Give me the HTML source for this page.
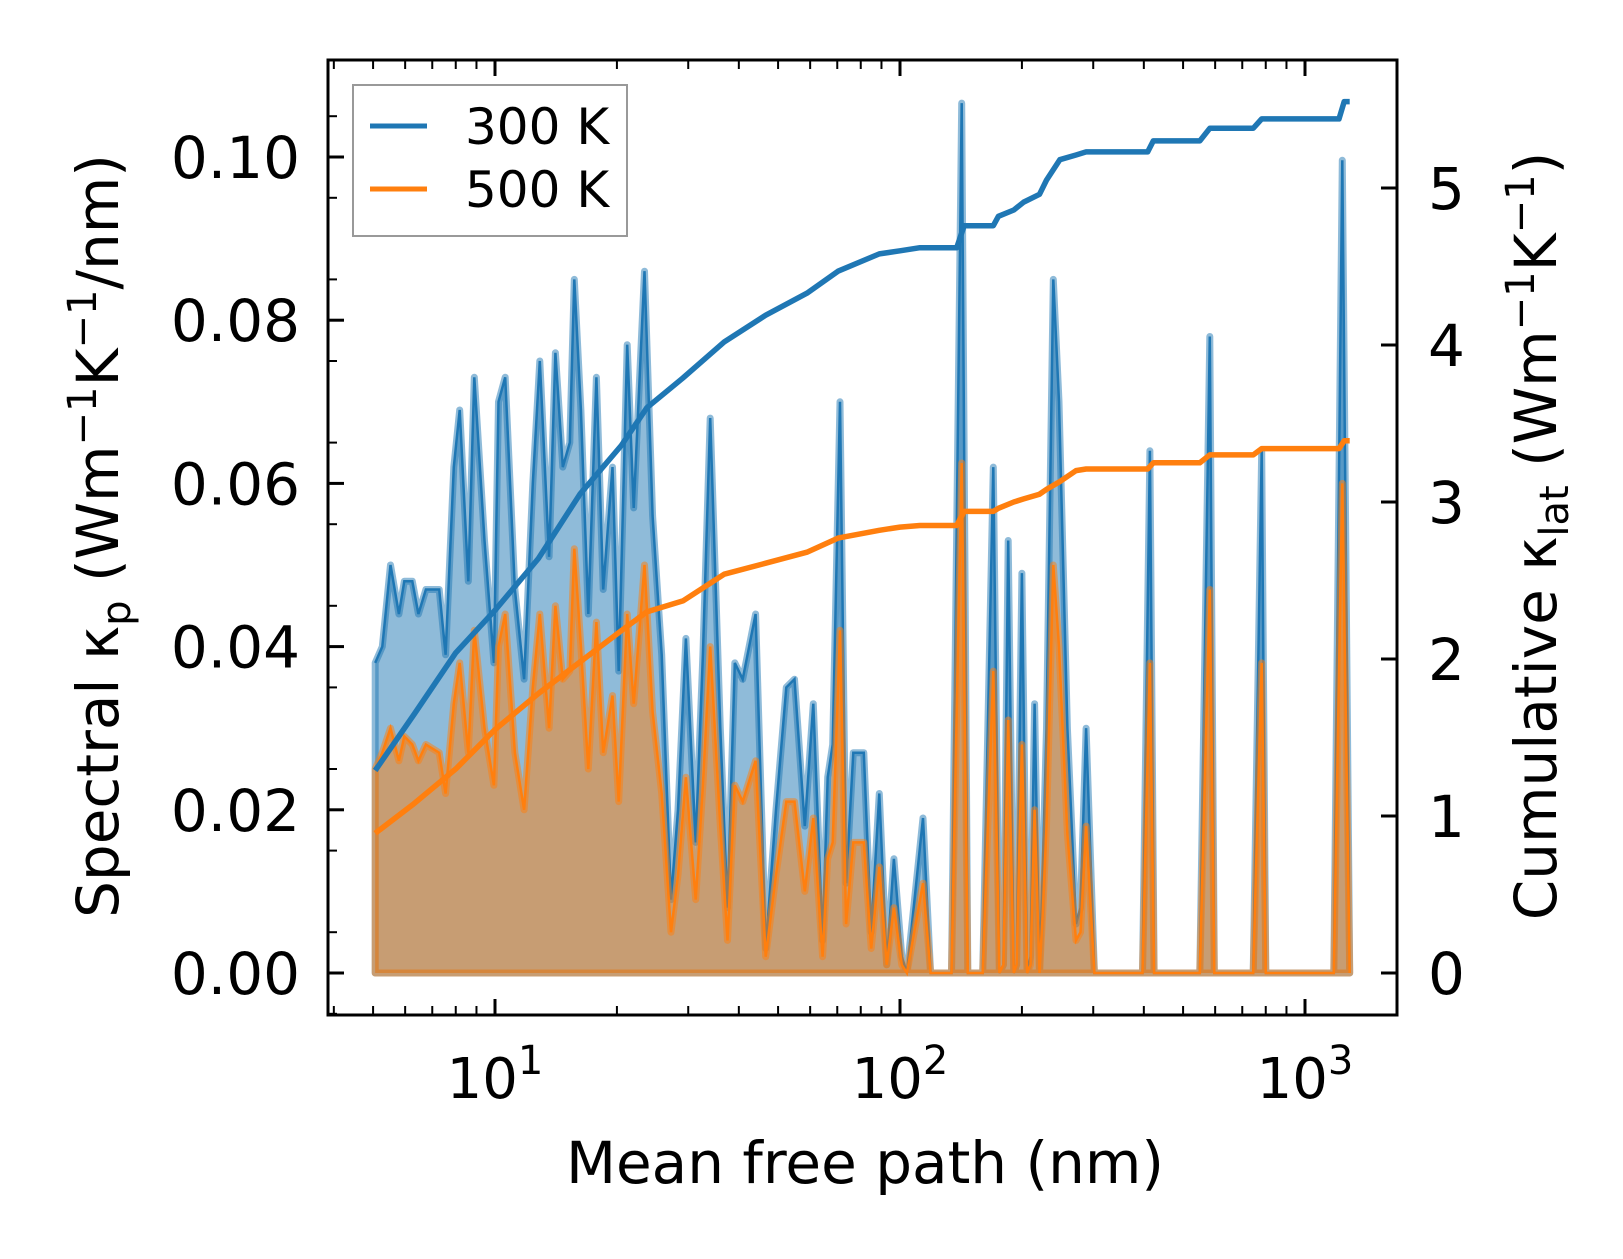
<!DOCTYPE html>
<html><head><meta charset="utf-8"><style>
html,body{margin:0;padding:0;background:#fff}
svg text{font-family:"DejaVu Sans","Liberation Sans",sans-serif;fill:#000}
</style></head><body>
<svg id="chart" width="1623" height="1254" viewBox="0 0 1623 1254" xmlns="http://www.w3.org/2000/svg">
<g id="plot"></g>
<g id="axes"></g>
</svg>
<script>
const mfp = [5.06,5.27,5.52,5.79,5.97,6.25,6.47,6.75,7.28,7.55,7.91,8.18,8.59,8.89,9.42,9.94,10.2,10.6,11.2,11.8,12.4,12.9,13.6,14.1,14.7,15.3,15.7,16.3,17.0,17.8,18.5,19.5,20.2,21.2,22.0,23.4,24.5,25.8,27.2,28.3,29.6,31.3,32.6,34.0,36.0,37.5,39.1,40.9,44.0,46.6,49.4,52.4,54.9,58.2,61.1,64.4,66.3,68.2,71.1,73.6,76.7,81.4,84.9,88.9,92.7,96.6,101,104,114,119,134,142,147,160,170,176,180,185,191,194,200,206,210,215,221,225,230,239,247,259,272,279,288,302,397,414,424,550,582,597,745,782,800,1178,1236,1289];
const spec300 = [.038,.040,.050,.044,.048,.048,.044,.047,.047,.039,.062,.069,.048,.073,.053,.038,.070,.073,.047,.036,.060,.075,.051,.076,.062,.065,.085,.069,.044,.073,.047,.062,.037,.077,.057,.086,.056,.039,.009,.020,.041,.016,.039,.068,.030,.008,.038,.036,.044,.003,.020,.035,.036,.018,.033,.004,.024,.028,.070,.011,.027,.027,.005,.022,.001,.014,.002,0,.019,0,0,.1066,0,0,.062,0,.001,.053,0,.001,.049,0,.002,.033,0,.012,.030,.085,.070,.030,.006,.008,.030,0,0,.064,0,0,.078,0,0,.064,0,0,.0996,0];
const spec500 = [.025,.027,.030,.026,.029,.028,.026,.028,.027,.022,.033,.038,.027,.042,.030,.023,.040,.044,.027,.020,.035,.044,.030,.045,.036,.037,.052,.040,.025,.043,.027,.034,.021,.044,.033,.050,.032,.022,.005,.012,.024,.009,.023,.040,.018,.004,.023,.021,.026,.002,.012,.021,.021,.010,.019,.002,.014,.016,.042,.006,.016,.016,.003,.013,.001,.008,.001,0,.011,0,0,.0625,0,0,.037,0,.001,.031,0,.001,.028,0,.001,.020,0,.007,.018,.050,.040,.017,.004,.005,.018,0,0,.038,0,0,.047,0,0,.038,0,0,.060,0];
const cumMfp = [5.06,6.32,8.0,10,12.8,16.2,20.5,23.7,29.1,36.8,46.6,58.9,70.3,88.9,100,112,138,144,170,175,191,202,221,230,248,272,288,409,422,550,582,745,782,1213,1250,1289];
const cum300 = [1.29,1.65,2.04,2.31,2.64,3.05,3.36,3.60,3.79,4.02,4.19,4.33,4.47,4.58,4.60,4.62,4.62,4.76,4.76,4.82,4.86,4.91,4.96,5.05,5.18,5.21,5.23,5.23,5.30,5.30,5.38,5.38,5.44,5.44,5.55,5.55];
const cum500 = [.89,1.08,1.30,1.55,1.78,1.98,2.18,2.30,2.37,2.54,2.61,2.68,2.77,2.82,2.84,2.85,2.85,2.94,2.94,2.96,3.00,3.02,3.05,3.08,3.13,3.20,3.21,3.21,3.25,3.25,3.30,3.30,3.34,3.34,3.39,3.39];
const leftTicks = ["0.00","0.02","0.04","0.06","0.08","0.10"];
const rightTicks = ["0","1","2","3","4","5"];
const xTicks = [1,2,3];

const L=328,R=1397,T=60,B=1015;
const X = v => 495 + (Math.log10(v)-1)*405;
const YL = v => 973 - v*8160;
const YR = v => 973 - v*157;
const NS="http://www.w3.org/2000/svg";
const plot=document.getElementById('plot'), axes=document.getElementById('axes');
function mk(tag, parent, attrs){const e=document.createElementNS(NS,tag);for(const k in attrs)e.setAttribute(k,attrs[k]);parent.appendChild(e);return e;}

function area(vals, color, name){
  let d='M'+X(mfp[0])+','+YL(0);
  mfp.forEach((m,i)=>{d+=' L'+X(m).toFixed(1)+','+YL(vals[i]).toFixed(1);});
  d+=' L'+X(mfp[mfp.length-1])+','+YL(0)+' Z';
  const a=mk('path',plot,{d:d,fill:color,'fill-opacity':0.5,stroke:color,'stroke-opacity':0.5,'stroke-width':7,'stroke-linejoin':'round'});
  
  
  let d2='';
  mfp.forEach((m,i)=>{d2+=(i?' L':'M')+X(m).toFixed(1)+','+YL(vals[i]).toFixed(1);});
  const l=mk('path',plot,{d:d2,fill:'none',stroke:color,'stroke-width':2.5});
  
  
}
area(spec300,'#1f77b4','spectral-300k');
area(spec500,'#ff7f0e','spectral-500k');
function cum(vals,color,name){
  let d='';
  cumMfp.forEach((m,i)=>{d+=(i?' L':'M')+X(m).toFixed(1)+','+YR(vals[i]).toFixed(1);});
  const l=mk('path',plot,{d:d,fill:'none',stroke:color,'stroke-width':5.5,'stroke-linejoin':'round'});
  
  
}
cum(cum300,'#1f77b4','cumulative-300k');
cum(cum500,'#ff7f0e','cumulative-500k');

const fr=mk('rect',axes,{x:L,y:T,width:R-L,height:B-T,fill:'none',stroke:'#000','stroke-width':3});


leftTicks.forEach((t,i)=>{
  const v=i*0.02,y=YL(v);
  mk('line',axes,{x1:L,x2:L+16,y1:y,y2:y,stroke:'#000','stroke-width':3});
  const tx=mk('text',axes,{x:300,y:y+21,'text-anchor':'end','font-size':58});
  tx.textContent=t;
  
  
});
for(let v=0.005; v<0.111; v+=0.01){const y=YL(v);mk('line',axes,{x1:L,x2:L+9,y1:y,y2:y,stroke:'#000','stroke-width':2});}
mk('line',axes,{x1:L,x2:L+9,y1:YL(-0.005),y2:YL(-0.005),stroke:'#000','stroke-width':2});
rightTicks.forEach((t,i)=>{
  const y=YR(i);
  mk('line',axes,{x1:R-16,x2:R,y1:y,y2:y,stroke:'#000','stroke-width':3});
  const tx=mk('text',axes,{x:1428,y:y+21,'text-anchor':'start','font-size':58});
  tx.textContent=t;
  
  
});
for(let e=0;e<=3;e++){for(let k=1;k<10;k++){
  const v=k*Math.pow(10,e),x=X(v); if(x<L||x>R) continue;
  const len=k===1?16:9, w=k===1?3:2;
  mk('line',axes,{x1:x,x2:x,y1:B,y2:B-len,stroke:'#000','stroke-width':w});
  mk('line',axes,{x1:x,x2:x,y1:T,y2:T+len,stroke:'#000','stroke-width':w});
}}
xTicks.forEach(e=>{
  const x=X(Math.pow(10,e));
  const tx=mk('text',axes,{x:x,y:1098,'text-anchor':'middle','font-size':56});
  tx.innerHTML='10<tspan dy="-24" font-size="40">'+e+'</tspan>';
  
  
});
</script>
<div style="position:absolute;left:0;top:0;width:1623px;height:1254px;pointer-events:none">
<svg width="1623" height="1254" xmlns="http://www.w3.org/2000/svg" style="position:absolute;left:0;top:0">
 <g>
  <rect x="353" y="85" width="274" height="151" fill="#fff" fill-opacity="0.8" stroke="#999" stroke-width="2"/>
  <line x1="370" x2="427" y1="126" y2="126" stroke="#1f77b4" stroke-width="5"/>
  <text x="465" y="144" font-size="50" font-family="DejaVu Sans, Liberation Sans, sans-serif">300 K</text>
  <line x1="370" x2="427" y1="189" y2="189" stroke="#ff7f0e" stroke-width="5"/>
  <text x="465" y="207" font-size="50" font-family="DejaVu Sans, Liberation Sans, sans-serif">500 K</text>
 </g>
 <text x="865" y="1183" text-anchor="middle" font-size="58" font-family="DejaVu Sans, Liberation Sans, sans-serif">Mean free path (nm)</text>
 <text transform="translate(118,536) rotate(-90)" text-anchor="middle" font-size="58" font-family="DejaVu Sans, Liberation Sans, sans-serif">Spectral κ<tspan font-size="40" dy="12">p</tspan><tspan dy="-12"> (Wm</tspan><tspan font-size="40" dy="-22">−1</tspan><tspan dy="22">K</tspan><tspan font-size="40" dy="-22">−1</tspan><tspan dy="22">/nm)</tspan></text>
 <text transform="translate(1556,536) rotate(-90)" text-anchor="middle" font-size="58" font-family="DejaVu Sans, Liberation Sans, sans-serif">Cumulative κ<tspan font-size="40" dy="12">lat</tspan><tspan dy="-12"> (Wm</tspan><tspan font-size="40" dy="-22">−1</tspan><tspan dy="22">K</tspan><tspan font-size="40" dy="-22">−1</tspan><tspan dy="22">)</tspan></text>
</svg>
</div>
</body></html>
